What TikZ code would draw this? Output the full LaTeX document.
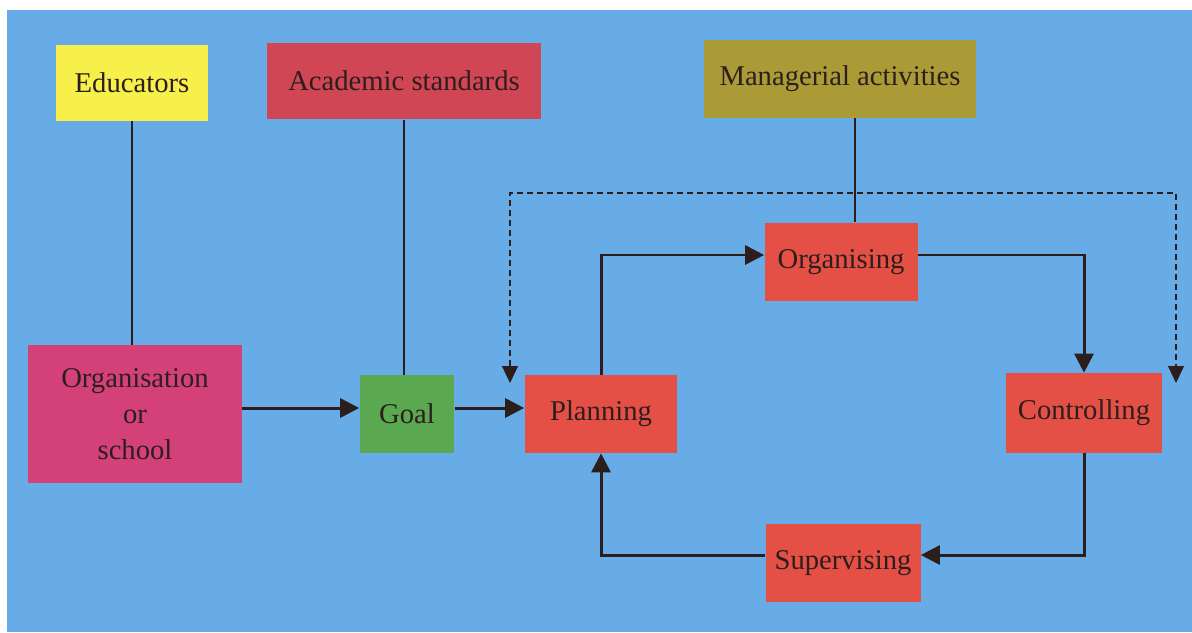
\documentclass[tikz,border=0pt]{standalone}
\usepackage{fontspec}
\setmainfont{Liberation Serif}
\usetikzlibrary{arrows.meta}
\definecolor{bgblue}{RGB}{103,172,230}
\definecolor{yellowbox}{RGB}{247,240,75}
\definecolor{crimsonbox}{RGB}{208,70,85}
\definecolor{olivebox}{RGB}{170,155,55}
\definecolor{redbox}{RGB}{228,80,70}
\definecolor{pinkbox}{RGB}{212,65,120}
\definecolor{greenbox}{RGB}{90,168,80}
\definecolor{inkdark}{RGB}{45,30,30}
\begin{document}
\begin{tikzpicture}[x=0.02cm,y=-0.02cm,
    box/.style={rectangle,inner sep=0pt,text=inkdark,align=center,
      font=\fontsize{16.3}{20.5}\selectfont},
    link/.style={draw=inkdark,line width=1.4pt},
    flow/.style={draw=inkdark,line width=1.7pt,-{Triangle[length=0.38cm,width=0.38cm]}},
    feedback/.style={draw=inkdark,line width=0.6pt,dash pattern=on 0.12cm off 0.08cm,
      {Triangle[length=0.34cm,width=0.32cm]}-{Triangle[length=0.34cm,width=0.32cm]}}]
  \fill[white] (0,0) rectangle (1192,632);
  \useasboundingbox (0,0) rectangle (1192,632);
  \fill[bgblue] (7,10) rectangle (1192,632);
  %boxes
  \node[box,fill=yellowbox,minimum width=3.06cm,minimum height=1.52cm] (edu) at (132,83) {Educators};
  \node[box,fill=crimsonbox,minimum width=5.48cm,minimum height=1.54cm] (acad) at (404,81) {Academic standards};
  \node[box,fill=olivebox,minimum width=5.46cm,minimum height=1.56cm] (manag) at (840,79) {Managerial activities};
  \node[box,fill=pinkbox,minimum width=4.28cm,minimum height=2.76cm] (school) at (135,414) {Organisation\\or\\school};
  \node[box,fill=greenbox,minimum width=1.9cm,minimum height=1.56cm] (goal) at (407,414) {Goal};
  \node[box,fill=redbox,minimum width=3.06cm,minimum height=1.56cm] (plan) at (601,414) {Planning};
  \node[box,fill=redbox,minimum width=3.06cm,minimum height=1.58cm] (orgn) at (841,262) {Organising};
  \node[box,fill=redbox,minimum width=3.12cm,minimum height=1.6cm] (ctrl) at (1084,413) {Controlling};
  \node[box,fill=redbox,minimum width=3.1cm,minimum height=1.56cm] (sup) at (843,563) {Supervising};
  \coordinate (fbl) at (510,383);
  \coordinate (fbr) at (1176,383);
  %links
  \draw[link] (edu.south) -- (edu.south |- school.north);
  \draw[link] (acad.south) -- (acad.south |- goal.north);
  \draw[link] ([xshift=0.3cm]manag.south) -- ([xshift=0.3cm]manag.south |- orgn.north);
  \draw[flow] ([yshift=0.12cm]school.east) -- ([yshift=0.12cm]goal.west);
  \draw[flow] ([yshift=0.12cm]goal.east) -- ([yshift=0.12cm]plan.west);
  \draw[flow] (plan.north) |- ([yshift=0.14cm]orgn.west);
  \draw[flow] ([yshift=0.14cm]orgn.east) -| (ctrl.north);
  \draw[flow] (ctrl.south) |- ([yshift=0.16cm]sup.east);
  \draw[flow] ([yshift=0.16cm]sup.west) -| (plan.south);
  \draw[feedback] (fbl) -- (510,193) -| (fbr);
\end{tikzpicture}
\end{document}
